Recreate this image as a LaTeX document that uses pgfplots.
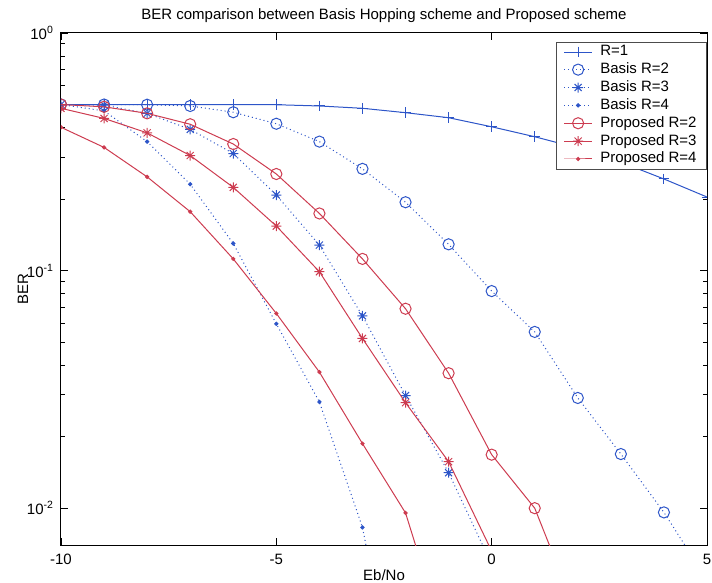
\documentclass[border=0pt]{standalone}
\usepackage{pgfplots}
\pgfplotsset{compat=1.18}
\usepackage{fontspec}
\setmainfont{Liberation Sans}
\definecolor{mblue}{RGB}{45,85,200}
\definecolor{mred}{RGB}{205,60,80}
\pgfdeclareplotmark{mstar}{%
  \pgfpathmoveto{\pgfqpoint{0pt}{\pgfplotmarksize}}\pgfpathlineto{\pgfqpoint{0pt}{-\pgfplotmarksize}}%
  \pgfpathmoveto{\pgfqpoint{\pgfplotmarksize}{0pt}}\pgfpathlineto{\pgfqpoint{-\pgfplotmarksize}{0pt}}%
  \pgfpathmoveto{\pgfqpoint{0.707\pgfplotmarksize}{0.707\pgfplotmarksize}}\pgfpathlineto{\pgfqpoint{-0.707\pgfplotmarksize}{-0.707\pgfplotmarksize}}%
  \pgfpathmoveto{\pgfqpoint{-0.707\pgfplotmarksize}{0.707\pgfplotmarksize}}\pgfpathlineto{\pgfqpoint{0.707\pgfplotmarksize}{-0.707\pgfplotmarksize}}%
  \pgfusepathqstroke}
\newcommand{\ff}{\fontsize{7.5}{9}\selectfont}
\begin{document}
\begin{tikzpicture}
\begin{axis}[
  name=ax,
  scale only axis, width=323pt, height=256pt,
  xmin=-10, xmax=5, ymode=log, ymin=0.007, ymax=1,
  xtick={-10,-5,0,5}, xticklabels={-10,-5,0,5},
  ytick={0.01,0.1,1},
  yticklabels={10\textsuperscript{-2},10\textsuperscript{-1},10\textsuperscript{0}},
  tick align=inside,
  major tick length=3.5pt, minor tick length=2pt,
  every tick/.style={black, line width=0.4pt},
  axis line style={line width=0.5pt},
  tick label style={font=\ff},
  xticklabel style={yshift=-1pt},
  label style={font=\ff},
  title={BER comparison between Basis Hopping scheme and Proposed scheme},
  title style={font=\ff, at={(axis description cs:0.5,1)}, anchor=base, yshift=0.5pt},
  xlabel={Eb/No}, ylabel={BER},
  xlabel style={at={(axis description cs:0.5,0)}, anchor=base, yshift=-17.5pt},
  ylabel style={at={(axis description cs:-0.0508,0.5)}, anchor=base},
  clip marker paths=true,
  legend cell align=left,
  legend style={at={(axis description cs:1,1)}, anchor=north east, xshift=0pt, yshift=-4.5pt,
    draw=black!70, fill=white, font=\ff, inner xsep=4pt, inner ysep=0.5pt, row sep=0pt,
    nodes={inner sep=1pt},
    /tikz/every odd column/.append style={column sep=3pt}},
  legend image code/.code={\draw[mark repeat=2,mark phase=2,#1] plot coordinates {(0cm,0cm) (0.24cm,0cm) (0.48cm,0cm)};},
  every axis plot/.append style={line width=0.5pt},
]
\addplot[mblue, mark=+, mark size=2.7pt] coordinates {
(-10,0.5)(-9,0.5)(-8,0.5)(-7,0.5)(-6,0.5)(-5,0.499)(-4,0.493)(-3,0.482)(-2,0.462)(-1,0.440)(0,0.403)(1,0.366)(2,0.328)(3,0.286)(4,0.243)(5,0.204)};
\addlegendentry{R=1}
\addplot[mblue, dash pattern=on 0.5pt off 1.5pt, mark=o, mark size=2.8pt, mark options={solid}] coordinates {
(-10,0.5)(-9,0.5)(-8,0.499)(-7,0.493)(-6,0.464)(-5,0.415)(-4,0.349)(-3,0.268)(-2,0.194)(-1,0.129)(0,0.082)(1,0.0552)(2,0.0291)(3,0.0169)(4,0.0096)(5,0.005)};
\addlegendentry{Basis R=2}
\addplot[mblue, dash pattern=on 0.5pt off 1.5pt, mark=mstar, mark size=2.5pt, mark options={solid}] coordinates {
(-10,0.5)(-9,0.497)(-8,0.459)(-7,0.393)(-6,0.311)(-5,0.208)(-4,0.128)(-3,0.0645)(-2,0.0298)(-1,0.0141)(0,0.0058)(1,0.002)};
\addlegendentry{Basis R=3}
\addplot[mblue, dash pattern=on 0.5pt off 1.5pt, mark=*, mark size=0.8pt, mark options={solid}] coordinates {
(-10,0.5)(-9,0.47)(-8,0.349)(-7,0.231)(-6,0.130)(-5,0.0597)(-4,0.028)(-3,0.0083)(-2,0.001)};
\addlegendentry{Basis R=4}
\addplot[mred, mark=o, mark size=2.8pt] coordinates {
(-10,0.5)(-9,0.489)(-8,0.459)(-7,0.413)(-6,0.341)(-5,0.255)(-4,0.174)(-3,0.112)(-2,0.0691)(-1,0.037)(0,0.0168)(1,0.0100)(2,0.0035)};
\addlegendentry{Proposed R=2}
\addplot[mred, mark=mstar, mark size=2.5pt] coordinates {
(-10,0.482)(-9,0.437)(-8,0.380)(-7,0.305)(-6,0.224)(-5,0.154)(-4,0.0989)(-3,0.0518)(-2,0.0278)(-1,0.0157)(0,0.0066)(1,0.002)};
\addlegendentry{Proposed R=3}
\addplot[mred, mark=*, mark size=0.8pt] coordinates {
(-10,0.401)(-9,0.330)(-8,0.248)(-7,0.177)(-6,0.112)(-5,0.066)(-4,0.0374)(-3,0.0187)(-2,0.00955)(-1,0.0025)};
\addlegendentry{Proposed R=4}
\end{axis}
\pgfresetboundingbox
\path ([shift={(-30.5pt,-19pt)}]ax.south west) rectangle ([shift={(2.5pt,16.5pt)}]ax.north east);
\end{tikzpicture}
\end{document}
